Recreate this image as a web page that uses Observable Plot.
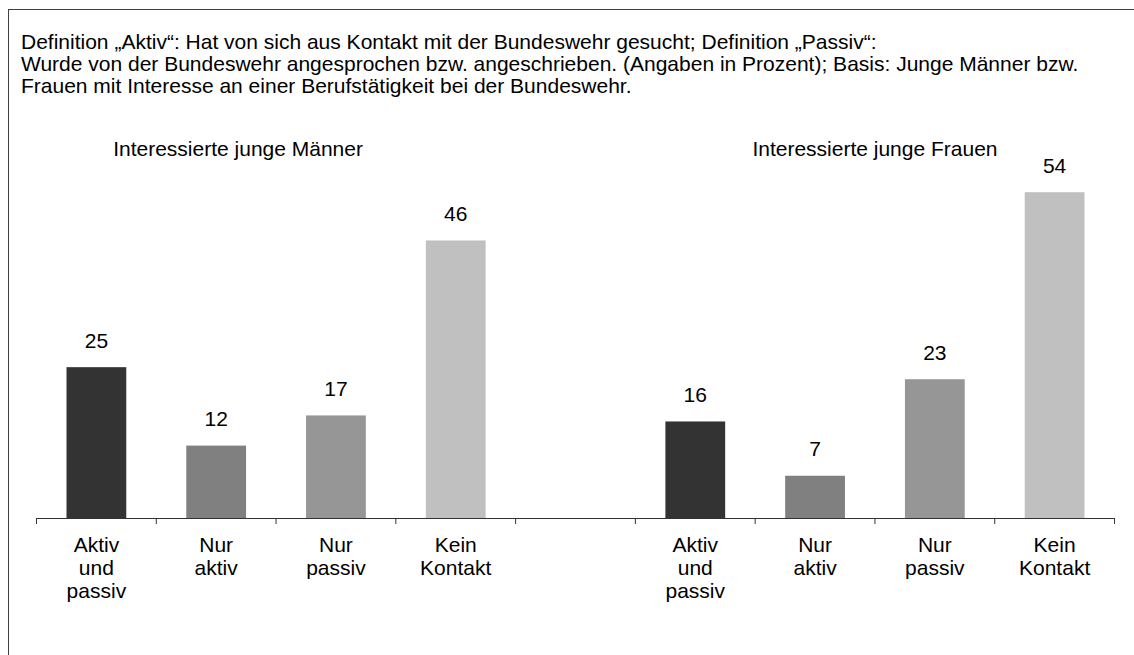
<!DOCTYPE html>
<html>
<head>
<meta charset="utf-8">
<script src="https://cdn.jsdelivr.net/npm/d3@7"></script>
<script src="https://cdn.jsdelivr.net/npm/@observablehq/plot@0.6"></script>
<style>
  html, body { margin: 0; padding: 0; background: #fff; }
  #wrap { position: relative; width: 1134px; height: 655px; overflow: hidden; font-family: "Liberation Sans", Arial, sans-serif; }
  #frame { position: absolute; left: 8px; top: 9px; width: 2000px; height: 2000px; border-left: 1px solid #404040; border-top: 1px solid #404040; pointer-events: none; }
  #title { position: absolute; left: 21px; top: 31px; font-size: 21px; line-height: 22px; color: #000; white-space: nowrap; }
  #chart { position: absolute; left: 0; top: 110px; }
</style>
</head>
<body>
<div id="wrap">
  <div id="frame"></div>
  <div id="title"></div>
  <div id="chart"></div>
</div>
<script>
const titleLines = [
  "Definition „Aktiv“: Hat von sich aus Kontakt mit der Bundeswehr gesucht; Definition „Passiv“:",
  "Wurde von der Bundeswehr angesprochen bzw. angeschrieben. (Angaben in Prozent); Basis: Junge Männer bzw.",
  "Frauen mit Interesse an einer Berufstätigkeit bei der Bundeswehr."
];
const groups = ["Interessierte junge Männer", "Interessierte junge Frauen"];
const categories = ["Aktiv\nund\npassiv", "Nur\naktiv", "Nur\npassiv", "Kein\nKontakt"];
const maenner = [25, 12, 17, 46];
const frauen = [16, 7, 23, 54];
const colors = ["#333333", "#808080", "#969696", "#c0c0c0"];

document.getElementById("title").innerHTML = titleLines.join("<br>");

// slot layout: group 0 -> slots 0..3, empty slot 4, group 1 -> slots 5..8
const seriesByGroup = [maenner, frauen];
const rows = [];
seriesByGroup.forEach((vals, g) => {
  vals.forEach((v, c) => {
    rows.push({group: groups[g], category: categories[c], slot: g * (categories.length + 1) + c, value: v});
  });
});
const nSlots = groups.length * categories.length + 1;
const groupRows = groups.map((name, g) => ({name, center: g * (categories.length + 1) + categories.length / 2}));

const font = "'Liberation Sans', Arial, sans-serif";

const chart = Plot.plot({
  width: 1134,
  height: 545,
  marginLeft: 36,
  marginRight: 20,
  marginTop: 46,
  marginBottom: 137,
  style: {fontFamily: font, fontSize: "21px", color: "#000", background: "transparent", overflow: "visible"},
  x: {type: "linear", domain: [0, nSlots], axis: null},
  y: {domain: [0, 60], axis: null},
  color: {domain: categories, range: colors},
  marks: [
    Plot.rectY(rows, {x1: "slot", x2: d => d.slot + 1, y: "value", fill: "category", insetLeft: 30.5, insetRight: 29.5}),
    Plot.ruleY([0], {stroke: "#333"}),
    Plot.axisX(d3.range(nSlots + 1), {tickSize: 6, stroke: "#333", tickFormat: () => "", label: null}),
    Plot.text(rows, {x: d => d.slot + 0.5, y: "value", text: d => String(d.value), lineAnchor: "bottom", dy: -20, fontSize: 21, fill: "#000"}),
    Plot.text(rows, {x: d => d.slot + 0.5, text: "category", frameAnchor: "bottom", lineAnchor: "top", dy: 17, lineHeight: 1.1, fontSize: 21, fill: "#000"}),
    Plot.text(groupRows.slice(0, 1), {x: "center", text: "name", frameAnchor: "top", lineAnchor: "bottom", dy: -0.5, dx: -38, fontSize: 21, fill: "#000"}),
    Plot.text(groupRows.slice(1), {x: "center", text: "name", frameAnchor: "top", lineAnchor: "bottom", dy: -0.5, fontSize: 21, fill: "#000"})
  ]
});
document.getElementById("chart").appendChild(chart);
</script>
</body>
</html>
